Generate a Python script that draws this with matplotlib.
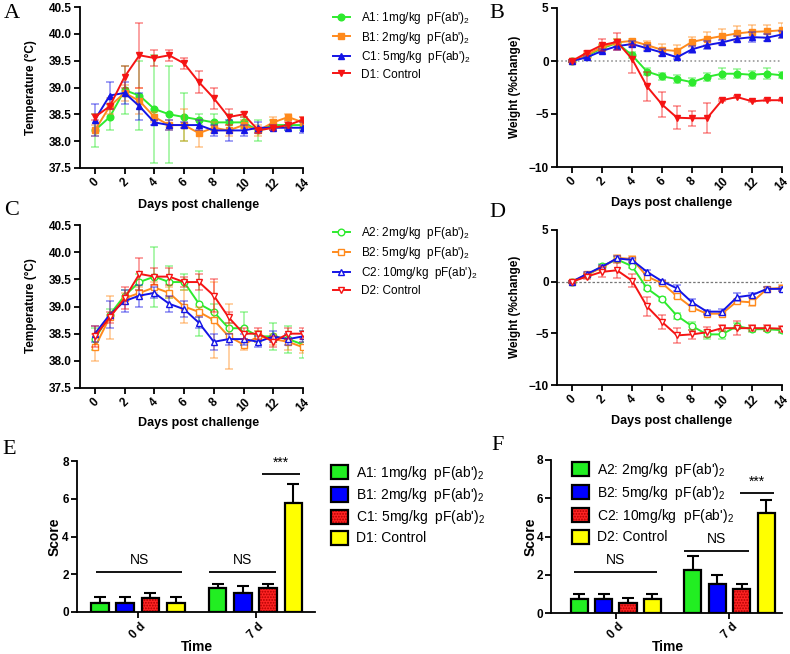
import matplotlib
matplotlib.use('Agg')
import matplotlib.pyplot as plt
from matplotlib.patches import Patch

plt.rcParams['font.family'] = ['Liberation Sans', 'DejaVu Sans']
plt.rcParams['mathtext.fontset'] = 'custom'
plt.rcParams['mathtext.rm'] = 'Liberation Sans'
plt.rcParams['mathtext.it'] = 'Liberation Sans:italic'
plt.rcParams['mathtext.bf'] = 'Liberation Sans:bold'
plt.rcParams['hatch.linewidth'] = 0.9

# ---------------- data ----------------
days = list(range(15))
day_ticks = [0, 2, 4, 6, 8, 10, 12, 14]

labels_1 = [r"A1: 1mg/kg  pF(ab')$_2$", r"B1: 2mg/kg  pF(ab')$_2$",
            r"C1: 5mg/kg  pF(ab')$_2$", "D1: Control"]
labels_2 = [r"A2: 2mg/kg  pF(ab')$_2$", r"B2: 5mg/kg  pF(ab')$_2$",
            r"C2: 10mg/kg  pF(ab')$_2$", "D2: Control"]

# Panel A: temperature, group 1
temp1_A = [38.2, 38.45, 38.95, 38.85, 38.6, 38.5, 38.45, 38.4, 38.35, 38.35, 38.35, 38.2, 38.3, 38.3, 38.3]
temp1_A_err = [0.3, 0.25, 0.45, 0.65, 1.0, 0.9, 0.45, 0.1, 0.15, 0.15, 0.1, 0.2, 0.1, 0.1, 0.1]
temp1_B = [38.2, 38.65, 38.9, 38.75, 38.45, 38.3, 38.3, 38.15, 38.25, 38.2, 38.3, 38.2, 38.35, 38.45, 38.35]
temp1_B_err = [0.1, 0.15, 0.15, 0.25, 0.1, 0.1, 0.3, 0.25, 0.1, 0.1, 0.1, 0.1, 0.1, 0.05, 0.1]
temp1_C = [38.4, 38.85, 38.9, 38.65, 38.35, 38.3, 38.3, 38.3, 38.2, 38.2, 38.2, 38.25, 38.25, 38.25, 38.25]
temp1_C_err = [0.3, 0.25, 0.2, 0.25, 0.05, 0.1, 0.05, 0.1, 0.1, 0.2, 0.1, 0.1, 0.05, 0.05, 0.1]
temp1_D = [38.45, 38.65, 39.2, 39.6, 39.55, 39.6, 39.45, 39.1, 38.8, 38.45, 38.5, 38.2, 38.25, 38.3, 38.4]
temp1_D_err = [0.05, 0.05, 0.2, 0.6, 0.15, 0.1, 0.1, 0.2, 0.2, 0.15, 0.05, 0.05, 0.05, 0.05, 0.05]

# Panel B: weight, group 1
wt1_A = [0, 0.5, 1.2, 1.7, 0.55, -1.0, -1.45, -1.7, -2.0, -1.5, -1.2, -1.2, -1.3, -1.2, -1.35]
wt1_A_err = [0.1, 0.2, 0.3, 0.4, 0.3, 0.3, 0.35, 0.35, 0.4, 0.4, 0.5, 0.4, 0.4, 0.5, 0.3]
wt1_B = [0, 0.6, 1.3, 1.75, 1.9, 1.5, 1.05, 0.95, 1.8, 2.1, 2.35, 2.6, 2.75, 2.8, 2.9]
wt1_B_err = [0.1, 0.2, 0.3, 0.3, 0.2, 0.4, 0.6, 0.6, 0.5, 0.6, 0.7, 0.7, 0.6, 0.6, 0.7]
wt1_C = [0, 0.35, 0.95, 1.4, 1.6, 1.2, 0.8, 0.35, 1.1, 1.5, 1.75, 2.1, 2.25, 2.2, 2.5]
wt1_C_err = [0.1, 0.15, 0.2, 0.4, 0.3, 0.3, 0.3, 0.15, 0.3, 0.4, 0.2, 0.3, 0.5, 0.3, 0.3]
wt1_D = [0, 0.8, 1.5, 1.8, 0.2, -2.4, -4.1, -5.35, -5.4, -5.4, -3.7, -3.4, -3.8, -3.7, -3.7]
wt1_D_err = [0.1, 0.1, 0.6, 0.8, 1.3, 1.4, 1.2, 1.1, 0.7, 1.4, 0.1, 0.1, 0.1, 0.1, 0.1]

# Panel C: temperature, group 2
temp2_A = [38.4, 38.85, 39.2, 39.45, 39.55, 39.45, 39.45, 39.05, 38.9, 38.6, 38.6, 38.45, 38.45, 38.4, 38.3]
temp2_A_err = [0.2, 0.1, 0.1, 0.15, 0.55, 0.3, 0.15, 0.6, 0.15, 0.1, 0.3, 0.1, 0.25, 0.25, 0.25]
temp2_B = [38.25, 38.8, 39.15, 39.25, 39.35, 39.25, 39.0, 38.9, 38.75, 38.45, 38.3, 38.45, 38.4, 38.35, 38.25]
temp2_B_err = [0.25, 0.4, 0.1, 0.1, 0.1, 0.1, 0.3, 0.1, 0.7, 0.6, 0.1, 0.1, 0.1, 0.15, 0.1]
temp2_C = [38.5, 38.85, 39.1, 39.2, 39.25, 39.05, 38.95, 38.7, 38.35, 38.4, 38.4, 38.35, 38.45, 38.4, 38.45]
temp2_C_err = [0.15, 0.25, 0.2, 0.2, 0.1, 0.15, 0.15, 0.1, 0.15, 0.1, 0.1, 0.1, 0.1, 0.1, 0.1]
temp2_D = [38.45, 38.8, 39.15, 39.6, 39.55, 39.55, 39.45, 39.45, 39.2, 38.8, 38.5, 38.5, 38.35, 38.5, 38.5]
temp2_D_err = [0.2, 0.1, 0.2, 0.3, 0.15, 0.15, 0.1, 0.15, 0.3, 0.1, 0.1, 0.1, 0.1, 0.1, 0.1]

# Panel D: weight, group 2
wt2_A = [0, 0.6, 1.5, 2.15, 1.5, -0.65, -1.7, -3.3, -4.3, -5.1, -5.1, -4.3, -4.6, -4.6, -4.7]
wt2_A_err = [0.1, 0.1, 0.2, 0.2, 0.2, 0.2, 0.2, 0.3, 0.35, 0.4, 0.4, 0.3, 0.3, 0.2, 0.3]
wt2_B = [0, 0.7, 1.35, 2.3, 2.2, 0.5, -0.15, -1.4, -2.5, -3.1, -3.1, -1.9, -2.0, -0.7, -0.6]
wt2_B_err = [0.1, 0.15, 0.2, 0.3, 0.3, 0.3, 0.2, 0.2, 0.2, 0.15, 0.15, 0.2, 0.4, 0.15, 0.3]
wt2_C = [0, 0.75, 1.45, 2.25, 2.1, 0.95, 0.05, -0.65, -2.0, -2.9, -2.9, -1.5, -1.3, -0.7, -0.7]
wt2_C_err = [0.1, 0.15, 0.15, 0.2, 0.2, 0.2, 0.15, 0.3, 0.3, 0.2, 0.3, 0.4, 0.2, 0.2, 0.2]
wt2_D = [0, 0.5, 0.95, 1.1, 0.1, -2.4, -3.9, -5.2, -5.1, -4.9, -4.5, -4.5, -4.5, -4.5, -4.55]
wt2_D_err = [0.1, 0.2, 0.5, 0.7, 0.6, 0.9, 0.7, 0.7, 0.4, 0.5, 0.3, 0.7, 0.3, 0.3, 0.3]

# Panels E/F: scores
time_labels = ["0 d", "7 d"]
score1_0d = [0.5, 0.5, 0.75, 0.5]
score1_0d_err = [0.3, 0.3, 0.25, 0.3]
score1_7d = [1.25, 1.0, 1.25, 5.75]
score1_7d_err = [0.25, 0.4, 0.25, 1.05]
score2_0d = [0.75, 0.75, 0.5, 0.75]
score2_0d_err = [0.25, 0.25, 0.3, 0.25]
score2_7d = [2.25, 1.5, 1.25, 5.25]
score2_7d_err = [0.75, 0.5, 0.25, 0.65]

# ---------------- style ----------------
line_colors = ['#2EEA2E', '#FF8A1C', '#1414E6', '#F51414']
markers = ['o', 's', '^', 'v']
bar_colors = ['#22EE22', '#0000FF', '#FF2424', '#FFFF00']

W, H = 790, 654
fig = plt.figure(figsize=(W / 100, H / 100), dpi=100)


def add_ax(l, t, r, b):
    return fig.add_axes([l / W, 1 - b / H, (r - l) / W, (b - t) / H])


def fp(x, y):
    return (x / W, 1 - y / H)


def style(ax, fs, pad=2):
    for s in ['top', 'right']:
        ax.spines[s].set_visible(False)
    for s in ['left', 'bottom']:
        ax.spines[s].set_linewidth(1.3)
    ax.tick_params(width=1.3, length=4, labelsize=fs, pad=pad)


def bold_ticks(ax):
    for lab in ax.get_xticklabels() + ax.get_yticklabels():
        lab.set_fontweight('bold')


def set_labels(ax, xl, xpos, yl, ypos, xfs, yfs):
    ax.set_xlabel(xl, fontsize=xfs, fontweight='bold')
    ax.set_ylabel(yl, fontsize=yfs, fontweight='bold')
    ax.xaxis.set_label_coords(*fp(*xpos), transform=fig.transFigure)
    ax.yaxis.set_label_coords(*fp(*ypos), transform=fig.transFigure)
    ax.xaxis.label.set_verticalalignment('center')
    ax.yaxis.label.set_verticalalignment('center')
    ax.yaxis.label.set_horizontalalignment('center')


def line_panel(ax, series, errs, open_markers, labels):
    handles = []
    for i, (vals, err) in enumerate(zip(series, errs)):
        c = line_colors[i]
        ax.errorbar(days, vals, yerr=err, fmt='none', ecolor=c, alpha=0.5,
                    elinewidth=1.1, capsize=2.6, capthick=1.1, zorder=2 + i)
        mfc = 'white' if open_markers else c
        h, = ax.plot(days, vals, color=c, lw=1.4, marker=markers[i], ms=4.8,
                     mfc=mfc, mec=c, mew=1.0, zorder=3 + i, label=labels[i])
        handles.append(h)
    ax.set_xlim(-1, 14)
    ax.set_xticks(day_ticks)
    ax.set_xticklabels([str(d) for d in day_ticks], rotation=45, ha='center')
    return handles


# ---- Panel A ----
axA = add_ax(80, 7, 303, 168)
style(axA, 8.5)
hA = line_panel(axA, [temp1_A, temp1_B, temp1_C, temp1_D],
                [temp1_A_err, temp1_B_err, temp1_C_err, temp1_D_err], False, labels_1)
axA.set_ylim(37.5, 40.5)
axA.set_yticks([37.5, 38.0, 38.5, 39.0, 39.5, 40.0, 40.5])
axA.set_yticklabels(['37.5', '38.0', '38.5', '39.0', '39.5', '40.0', '40.5'])
bold_ticks(axA)
set_labels(axA, 'Days post challenge', (199, 205), 'Temperature (°C)', (31, 88), 9, 8.5)
axA.legend(handles=hA, loc='upper left', bbox_to_anchor=fp(333, 10),
           bbox_transform=fig.transFigure, frameon=False, fontsize=8.5,
           handlelength=1.4, handletextpad=1.0, labelspacing=0.3, borderpad=0,
           borderaxespad=0)

# ---- Panel B ----
axB = add_ax(557, 8, 782, 167)
style(axB, 8.5)
axB.axhline(0, color='#999999', lw=1.2, ls=(0, (1, 1.5)), zorder=1)
line_panel(axB, [wt1_A, wt1_B, wt1_C, wt1_D],
           [wt1_A_err, wt1_B_err, wt1_C_err, wt1_D_err], False, labels_1)
axB.set_ylim(-10, 5)
axB.set_yticks([-10, -5, 0, 5])
bold_ticks(axB)
set_labels(axB, 'Days post challenge', (672, 203), 'Weight (%change)', (515, 87), 9, 8.5)

# ---- Panel C ----
axC = add_ax(80, 225, 303, 388)
style(axC, 8.5)
hC = line_panel(axC, [temp2_A, temp2_B, temp2_C, temp2_D],
                [temp2_A_err, temp2_B_err, temp2_C_err, temp2_D_err], True, labels_2)
axC.set_ylim(37.5, 40.5)
axC.set_yticks([37.5, 38.0, 38.5, 39.0, 39.5, 40.0, 40.5])
axC.set_yticklabels(['37.5', '38.0', '38.5', '39.0', '39.5', '40.0', '40.5'])
bold_ticks(axC)
set_labels(axC, 'Days post challenge', (199, 423), 'Temperature (°C)', (31, 306), 9, 8.5)
axC.legend(handles=hC, loc='upper left', bbox_to_anchor=fp(333, 225),
           bbox_transform=fig.transFigure, frameon=False, fontsize=8.5,
           handlelength=1.4, handletextpad=1.0, labelspacing=0.35, borderpad=0,
           borderaxespad=0)

# ---- Panel D ----
axD = add_ax(557, 230, 782, 385)
style(axD, 8.5)
axD.axhline(0, color='#777777', lw=0.9, ls=(0, (2, 1.5)), zorder=1)
line_panel(axD, [wt2_A, wt2_B, wt2_C, wt2_D],
           [wt2_A_err, wt2_B_err, wt2_C_err, wt2_D_err], True, labels_2)
axD.set_ylim(-10, 5)
axD.set_yticks([-10, -5, 0, 5])
bold_ticks(axD)
set_labels(axD, 'Days post challenge', (672, 421), 'Weight (%change)', (515, 307), 9, 8.5)


# ---- bar panels ----
def bar_panel(ax, v0, e0, v7, e7, labels, sig):
    gap = 4.65
    bw = 0.7
    for g, (vals, errs) in enumerate([(v0, e0), (v7, e7)]):
        for i in range(4):
            x = i + g * gap
            if i == 2:
                ax.bar(x, vals[i], width=bw, color=bar_colors[i], edgecolor='#B00000',
                       hatch='......', linewidth=0, zorder=2)
                ax.bar(x, vals[i], width=bw, facecolor='none', edgecolor='black',
                       linewidth=1.6, zorder=3)
            else:
                ax.bar(x, vals[i], width=bw, color=bar_colors[i], edgecolor='black',
                       linewidth=1.6, zorder=3)
            ax.errorbar(x, vals[i], yerr=[[0], [errs[i]]], fmt='none', ecolor='black',
                        elinewidth=1.5, capsize=4.2, capthick=1.5, zorder=1)
    ax.set_ylim(0, 8)
    ax.set_yticks([0, 2, 4, 6, 8])
    ax.set_xticks([1.5, 1.5 + gap])
    ax.set_xticklabels(time_labels, rotation=45, ha='center')
    for (x0, x1, y, txt) in [(sig[0][0], sig[0][1], sig[0][2], 'NS'),
                             (sig[1][0], sig[1][1], sig[1][2], 'NS'),
                             (sig[2][0], sig[2][1], sig[2][2], '***')]:
        ax.plot([x0, x1], [y, y], color='black', lw=1.3, solid_capstyle='butt')
        ax.text((x0 + x1) / 2, y + 0.25, txt, ha='center', va='bottom', fontsize=10)
    handles = []
    for i in range(4):
        if i == 2:
            handles.append((Patch(facecolor=bar_colors[i], edgecolor='#B00000',
                                  hatch='......', linewidth=0),
                            Patch(facecolor='none', edgecolor='black', linewidth=1.6)))
        else:
            handles.append(Patch(facecolor=bar_colors[i], edgecolor='black', linewidth=1.6))
    return handles


axE = add_ax(77, 461, 315, 612)
style(axE, 8.5)
hE = bar_panel(axE, score1_0d, score1_0d_err, score1_7d, score1_7d_err, labels_1,
               [(-0.15, 3.25, 2.13), (4.3, 6.95, 2.13), (6.4, 7.9, 7.3)])
axE.set_xlim(-0.9, 8.5)
bold_ticks(axE)
set_labels(axE, 'Time', (197, 647), 'Score', (55, 537), 10, 10)
axE.legend(hE, labels_1, loc='upper left', bbox_to_anchor=fp(331, 464),
           bbox_transform=fig.transFigure, frameon=False, fontsize=10,
           handlelength=1.25, handleheight=1.2, handletextpad=0.55, labelspacing=0.3,
           borderpad=0, borderaxespad=0)

axF = add_ax(551, 460, 782, 613)
style(axF, 8.5, pad=1.5)
hF = bar_panel(axF, score2_0d, score2_0d_err, score2_7d, score2_7d_err, labels_2,
               [(-0.2, 3.2, 2.16), (4.3, 6.95, 3.24), (6.57, 7.96, 6.27)])
axF.set_xlim(-1.15, 8.3)
bold_ticks(axF)
set_labels(axF, 'Time', (668, 647), 'Score', (531, 537), 10, 10)
axF.legend(hF, labels_2, loc='upper left', bbox_to_anchor=fp(572, 461),
           bbox_transform=fig.transFigure, frameon=False, fontsize=10,
           handlelength=1.25, handleheight=1.2, handletextpad=0.55, labelspacing=0.35,
           borderpad=0, borderaxespad=0)

# panel letters
for letter, (x, y) in zip('ABCDEF', [(4, 4), (489, 4), (4, 201), (489, 203), (2, 440), (491, 436)]):
    fig.text(*fp(x, y), letter, fontsize=16, family='Liberation Serif', ha='left', va='top')

fig.savefig('out.png', dpi=100)
